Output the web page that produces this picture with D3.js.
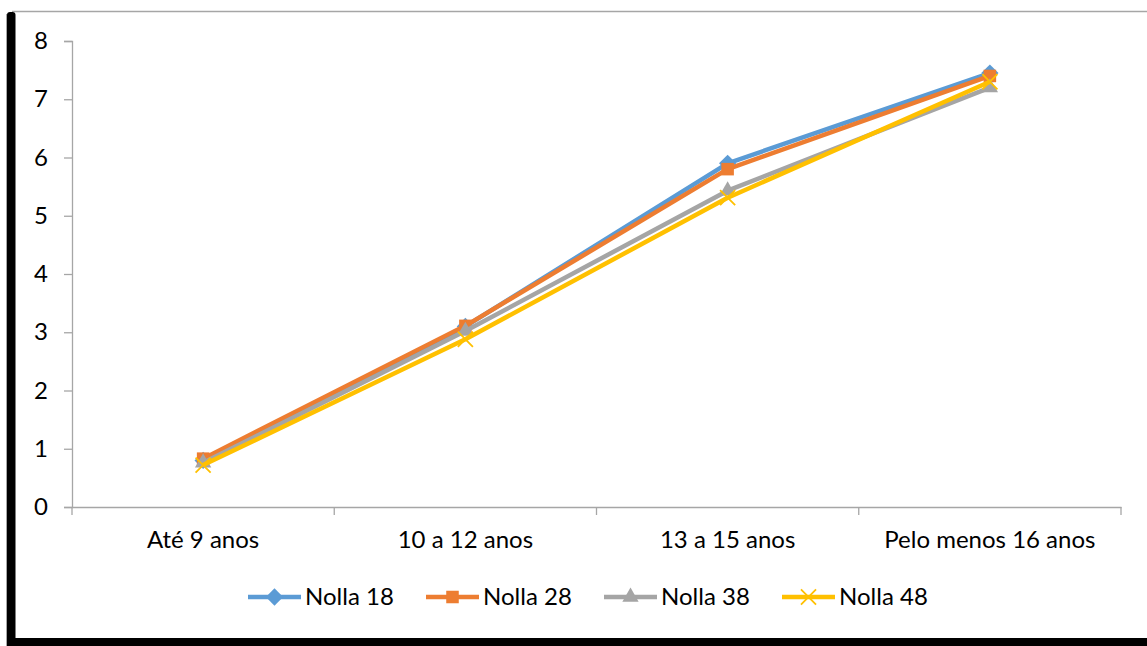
<!DOCTYPE html>
<html><head><meta charset="utf-8">
<script src="https://cdn.jsdelivr.net/npm/d3@7"></script>
<style>body{margin:0;background:#fff}svg{display:block}</style>
</head><body>
<svg id="c" width="1147" height="646"></svg>
<script>
const categories = ["Até 9 anos", "10 a 12 anos", "13 a 15 anos", "Pelo menos 16 anos"];
const seriesNames = ["Nolla 18", "Nolla 28", "Nolla 38", "Nolla 48"];
const nolla18 = [0.80, 3.10, 5.90, 7.45];
const nolla28 = [0.83, 3.11, 5.80, 7.40];
const nolla38 = [0.76, 3.02, 5.43, 7.20];
const nolla48 = [0.72, 2.88, 5.31, 7.30];
const yTicks = [0, 1, 2, 3, 4, 5, 6, 7, 8];
const colors = ["#5B9BD5", "#ED7D31", "#A5A5A5", "#FFC000"];
const symbols = [d3.symbolDiamond2, d3.symbolSquare2, d3.symbolTriangle2, d3.symbolX];
const symSizes = [190, 200, 190, 150];
const seriesValues = [nolla18, nolla28, nolla38, nolla48];

const svg = d3.select("#c");
const font = "Lato, 'Liberation Sans', sans-serif";

// frame
svg.append("line").attr("x1", 12).attr("x2", 1147).attr("y1", 11.5).attr("y2", 11.5).attr("stroke", "#A6A6A6").attr("stroke-width", 1.5);
svg.append("line").attr("x1", 6.5).attr("x2", 6.5).attr("y1", 14).attr("y2", 646).attr("stroke", "#A6A6A6").attr("stroke-width", 1);
svg.append("rect").attr("x", 7).attr("y", 12).attr("width", 8.5).attr("height", 634).attr("rx", 3).attr("fill", "#000");
svg.append("rect").attr("x", 7).attr("y", 638).attr("width", 1140).attr("height", 8).attr("fill", "#000");

const x = d3.scaleBand().domain(categories).range([72, 1121]).padding(0);
const y = d3.scaleLinear().domain([0, 8]).range([507, 41]);

const axisColor = "#A6A6A6";
// y axis
const gy = svg.append("g").attr("transform", "translate(72,0)")
  .call(d3.axisLeft(y).tickValues(yTicks).tickSize(8).tickPadding(16).tickFormat(d3.format("d")));
gy.select(".domain").attr("stroke", axisColor).attr("stroke-width", 1.3);
gy.selectAll(".tick line").attr("stroke", axisColor).attr("stroke-width", 1.3);
gy.selectAll("text").attr("font-family", font).attr("font-size", 24).attr("fill", "#000");

// x axis
const gx = svg.append("g").attr("transform", "translate(0,507)")
  .call(d3.axisBottom(x).tickSize(0).tickPadding(24));
gx.select(".domain").attr("stroke", axisColor).attr("stroke-width", 1.3);
gx.selectAll("text").attr("font-family", font).attr("font-size", 24).attr("fill", "#000");
const bounds = categories.map(c => x(c)).concat([x(categories[categories.length - 1]) + x.bandwidth()]);
gx.selectAll(".bt").data(bounds).enter().append("line").attr("class", "bt")
  .attr("x1", d => d).attr("x2", d => d).attr("y1", 0).attr("y2", 8)
  .attr("stroke", axisColor).attr("stroke-width", 1.3);

const cx = c => x(c) + x.bandwidth() / 2;
const line = d3.line().x((d, i) => cx(categories[i])).y(d => y(d));

seriesValues.forEach((vals, s) => {
  const g = svg.append("g");
  g.append("path").datum(vals).attr("d", line).attr("fill", "none")
    .attr("stroke", colors[s]).attr("stroke-width", 4.5).attr("stroke-linejoin", "round");
  const sym = d3.symbol().type(symbols[s]).size(symSizes[s]);
  g.selectAll("path.m").data(vals).enter().append("path").attr("class", "m")
    .attr("transform", (d, i) => `translate(${cx(categories[i])},${y(d)})`)
    .attr("d", sym())
    .attr("fill", s === 3 ? "none" : colors[s])
    .attr("stroke", colors[s]).attr("stroke-width", s === 3 ? 1.8 : 0);
});

// legend
const legend = svg.append("g").attr("transform", "translate(248,597)");
seriesNames.forEach((n, s) => {
  const g = legend.append("g").attr("transform", `translate(${s * 178},0)`);
  g.append("line").attr("x1", 0).attr("x2", 53).attr("y1", 0).attr("y2", 0)
    .attr("stroke", colors[s]).attr("stroke-width", 4.5);
  g.append("path").attr("transform", "translate(26.5,0)")
    .attr("d", d3.symbol().type(symbols[s]).size(symSizes[s])())
    .attr("fill", s === 3 ? "none" : colors[s])
    .attr("stroke", colors[s]).attr("stroke-width", s === 3 ? 1.8 : 0);
  g.append("text").attr("x", 57).attr("y", 0).attr("dy", "0.35em")
    .attr("font-family", font).attr("font-size", 24).attr("fill", "#000").text(n);
});
</script>
</body></html>
